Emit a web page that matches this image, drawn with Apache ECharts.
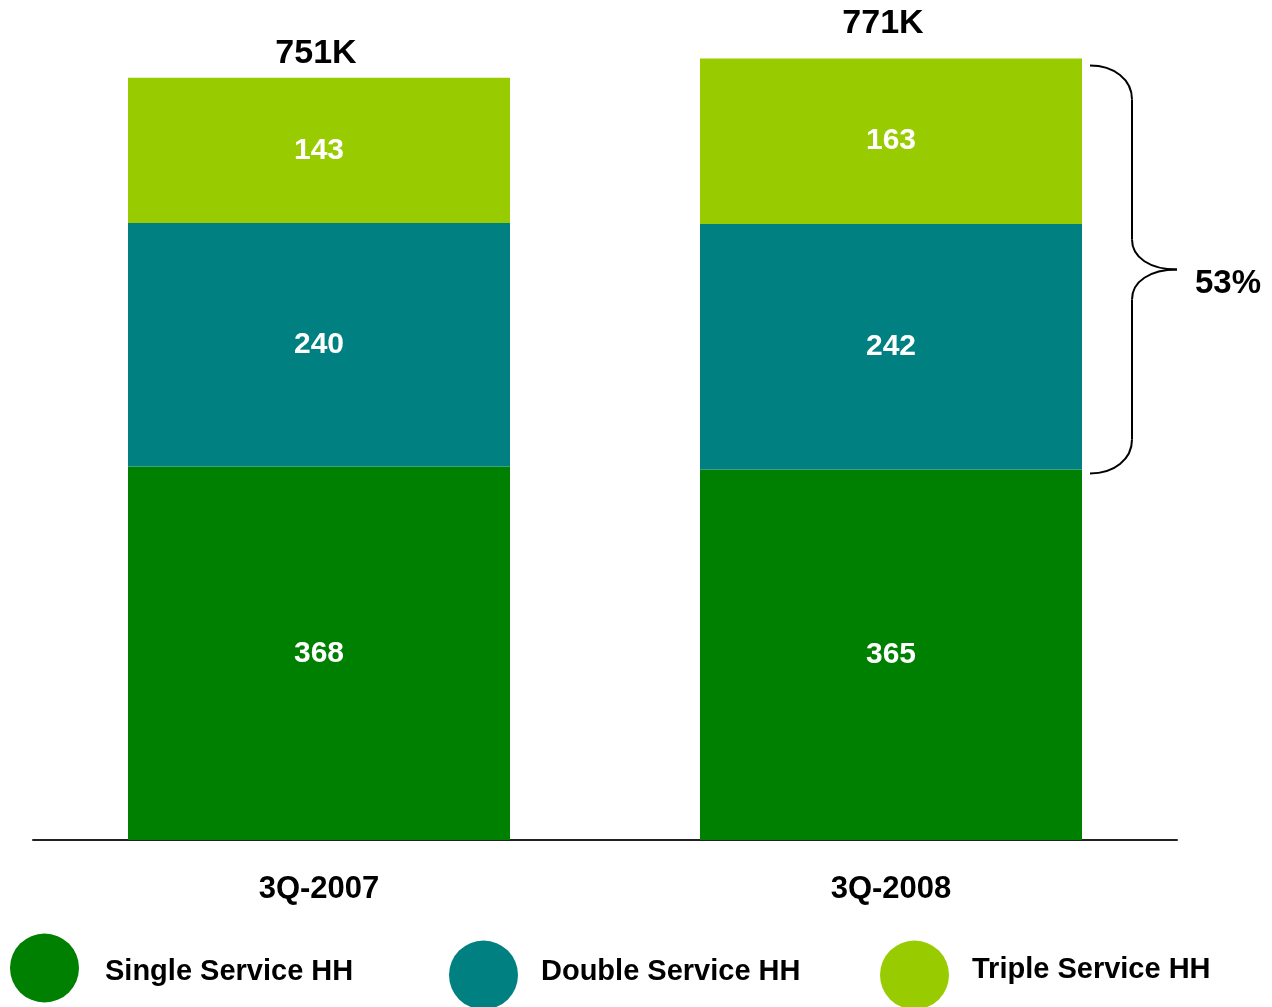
<!DOCTYPE html>
<html>
<head>
<meta charset="utf-8">
<script src="https://cdn.jsdelivr.net/npm/echarts@6/dist/echarts.min.js"></script>
<style>
  html, body { margin: 0; padding: 0; background: #ffffff; }
  #chart { width: 1272px; height: 1007px; }
</style>
</head>
<body>
<div id="chart"></div>
<script>
// Households by service bundle, thousands
const quarters = ['3Q-2007', '3Q-2008'];
const singleService = [368, 365];
const doubleService = [240, 242];
const tripleService = [143, 163];
const totals = [751, 771];
const seriesNames = ['Single Service HH', 'Double Service HH', 'Triple Service HH'];

const COLORS = ['#008000', '#008080', '#99CC00'];
const FONT = '"Liberation Sans", Arial, sans-serif';

const chart = echarts.init(document.getElementById('chart'));

const segLabel = {
  show: true,
  position: 'inside',
  color: '#ffffff',
  fontFamily: FONT,
  fontWeight: 'bold',
  fontSize: 30
};

function stackSeries(name, values, color) {
  return {
    name: name,
    type: 'bar',
    stack: 'hh',
    barWidth: 382,
    data: values,
    itemStyle: { color: color },
    label: segLabel,
    silent: true
  };
}

// per-column placement of the total labels
const totalLabelPos = [
  { distance: 7, offset: [-3, 0] },
  { distance: 16, offset: [-8, 0] }
];

function legendFor(i, left, top, padding) {
  return {
    data: [seriesNames[i]],
    left: left,
    top: top,
    padding: 0,
    icon: 'circle',
    itemWidth: 69,
    itemHeight: 69,
    selectedMode: false,
    formatter: '{t|{name}}',
    textStyle: {
      fontFamily: FONT,
      fontWeight: 'bold',
      fontSize: 29,
      color: '#000000',
      rich: {
        t: {
          fontFamily: FONT,
          fontWeight: 'bold',
          fontSize: 29,
          color: '#000000',
          padding: padding
        }
      }
    }
  };
}

const option = {
  animation: false,
  backgroundColor: '#ffffff',
  grid: { left: 33, right: 95, top: 28, bottom: 167 },
  xAxis: {
    type: 'category',
    data: quarters,
    axisTick: { show: false },
    axisLine: { lineStyle: { color: '#222222', width: 2 } },
    axisLabel: {
      margin: 34,
      color: '#000000',
      fontFamily: FONT,
      fontWeight: 'bold',
      fontSize: 31
    }
  },
  yAxis: {
    type: 'value',
    min: 0,
    max: 800,
    show: false,
    splitLine: { show: false }
  },
  legend: [
    legendFor(0, 10, 933.5, [7, 0, 0, 21]),
    legendFor(1, 449, 940.5, [0, 0, 7, 18]),
    legendFor(2, 880, 940.5, [0, 0, 11, 18])
  ],
  series: [
    stackSeries(seriesNames[0], singleService, COLORS[0]),
    stackSeries(seriesNames[1], doubleService, COLORS[1]),
    stackSeries(seriesNames[2], tripleService, COLORS[2]),
    {
      name: 'Total',
      type: 'scatter',
      symbolSize: 1,
      itemStyle: { color: 'rgba(255,255,255,0)' },
      silent: true,
      label: {
        show: true,
        position: 'top',
        formatter: function (p) { return totals[p.dataIndex] + 'K'; },
        color: '#000000',
        opacity: 1,
        textBorderWidth: 0,
        fontFamily: FONT,
        fontWeight: 'bold',
        fontSize: 34
      },
      data: totals.map(function (v, i) {
        return {
          value: [quarters[i], v],
          label: {
            distance: totalLabelPos[i].distance,
            offset: totalLabelPos[i].offset
          }
        };
      })
    }
  ]
};

chart.setOption(option);

// Brace spanning the double + triple service share of the latest quarter
function drawBrace() {
  const last = quarters.length - 1;
  const cx = chart.convertToPixel({ xAxisIndex: 0 }, quarters[last]);
  const yTop = chart.convertToPixel({ yAxisIndex: 0 }, totals[last]) + 8;
  const yBot = chart.convertToPixel({ yAxisIndex: 0 }, singleService[last]) + 4;
  const x0 = cx + 191 + 8;
  const x1 = x0 + 42;
  const xTip = x1 + 45;
  const yMid = (yTop + yBot) / 2;

  const stroke = { stroke: '#000000', lineWidth: 2, fill: null };
  function curve(ax, ay, c1x, c1y, c2x, c2y, bx, by) {
    return {
      type: 'bezierCurve',
      silent: true,
      shape: { x1: ax, y1: ay, x2: bx, y2: by, cpx1: c1x, cpy1: c1y, cpx2: c2x, cpy2: c2y },
      style: stroke
    };
  }
  function seg(ax, ay, bx, by) {
    return {
      type: 'line',
      silent: true,
      shape: { x1: ax, y1: ay, x2: bx, y2: by },
      style: stroke
    };
  }

  const share = Math.round((doubleService[last] + tripleService[last]) / totals[last] * 100);

  chart.setOption({
    graphic: [
      curve(x0, yTop, x0 + 24, yTop, x1, yTop + 14, x1, yTop + 34),
      seg(x1, yTop + 34, x1, yMid - 30),
      curve(x1, yMid - 30, x1, yMid - 12, x1 + 18, yMid, xTip, yMid),
      curve(xTip, yMid, x1 + 18, yMid, x1, yMid + 12, x1, yMid + 30),
      seg(x1, yMid + 30, x1, yBot - 34),
      curve(x1, yBot - 34, x1, yBot - 14, x0 + 24, yBot, x0, yBot),
      {
        type: 'text',
        x: xTip + 18,
        y: yMid + 14,
        silent: true,
        style: {
          text: share + '%',
          fill: '#000000',
          font: 'bold 33px ' + FONT,
          verticalAlign: 'middle'
        }
      }
    ]
  });
}
drawBrace();
</script>
</body>
</html>
